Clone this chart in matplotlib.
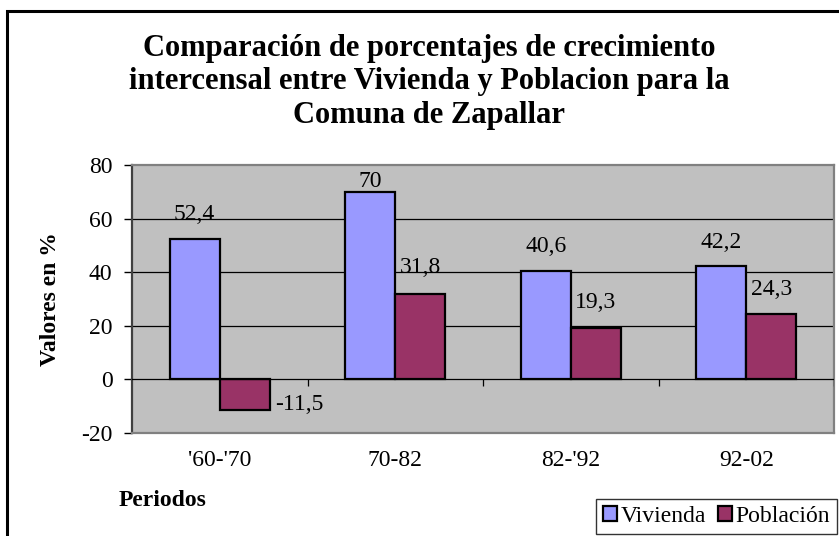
import matplotlib
matplotlib.use("Agg")
import matplotlib.pyplot as plt
import numpy as np
from matplotlib.patches import Rectangle

# data
periodos = ["'60-'70", "70-82", "82-'92", "92-02"]
vivienda = [52.4, 70.0, 40.6, 42.2]
poblacion = [-11.5, 31.8, 19.3, 24.3]
vivienda_lbl = ["52,4", "70", "40,6", "42,2"]
poblacion_lbl = ["-11,5", "31,8", "19,3", "24,3"]

W, H, DPI = 839, 536, 100
FS = 17
plt.rcParams["font.family"] = ["Liberation Serif", "DejaVu Serif"]
plt.rcParams["axes.unicode_minus"] = False

fig = plt.figure(figsize=(W / DPI, H / DPI), dpi=DPI)
ax = fig.add_axes([132 / W, 1 - 433 / H, 702 / W, 268 / H])
ax.set_facecolor("#C0C0C0")

x = np.arange(len(periodos))
bw = 1 / 3.5  # excel gap width 150%
ax.bar(x - bw / 2, vivienda, bw, color="#9999FF", edgecolor="black",
       linewidth=1.6, label="Vivienda", zorder=3)
ax.bar(x + bw / 2, poblacion, bw, color="#993366", edgecolor="black",
       linewidth=1.6, label="Población", zorder=3)

ax.set_xlim(-0.5, len(periodos) - 0.5)
ax.set_ylim(-20, 80)
ax.set_yticks(np.arange(-20, 81, 20))
ax.set_xticks(x)
ax.set_xticklabels(periodos)
ax.tick_params(axis="x", length=0, pad=12, labelsize=FS)
ax.tick_params(axis="y", length=6, width=1, pad=8, labelsize=FS,
               color="black")
for sp in ax.spines.values():
    sp.set_color("#808080")
    sp.set_linewidth(1.6)
ax.spines["left"].set_color("#404040")

for g in (20, 40, 60):
    ax.axhline(g, color="black", lw=0.9, zorder=1)
ax.axhline(0, color="black", lw=0.9, zorder=4)
# category separators hanging under the zero line
ax.vlines(np.arange(1, len(periodos) + 1) - 0.5, -2.3, 0,
          color="black", lw=0.9, zorder=4)

# data labels, offsets in pixels (excel placement is a bit irregular)
px = 72 / DPI
viv_dy = [24, 10, 24, 24]
pob_dy = [None, 27, 25, 25]
for i in range(len(periodos)):
    ax.annotate(vivienda_lbl[i], (x[i] - bw / 2, vivienda[i]),
                xytext=(0, viv_dy[i] * px), textcoords="offset points",
                ha="center", va="center", fontsize=FS, zorder=5)
    if poblacion[i] < 0:
        ax.annotate(poblacion_lbl[i], (x[i] + bw, poblacion[i]),
                    xytext=(5 * px, 6 * px), textcoords="offset points",
                    ha="left", va="center", fontsize=FS, zorder=5)
    else:
        ax.annotate(poblacion_lbl[i], (x[i] + bw / 2, poblacion[i]),
                    xytext=(0, pob_dy[i] * px), textcoords="offset points",
                    ha="center", va="center", fontsize=FS, zorder=5)

fig.text(429 / W, 1 - 82 / H,
         "Comparación de porcentajes de crecimiento\n"
         "intercensal entre Vivienda y Poblacion para la\n"
         "Comuna de Zapallar",
         ha="center", va="center", fontsize=22, fontweight="bold",
         multialignment="center", linespacing=1.22)
fig.text(50 / W, 1 - 299 / H, "Valores en %", rotation=90,
         ha="center", va="center", fontsize=FS, fontweight="bold")
fig.text(119 / W, 1 - 500 / H, "Periodos", ha="left", va="center",
         fontsize=FS, fontweight="bold")

leg = fig.legend(loc="lower right", bbox_to_anchor=(837 / W, 1 - 534 / H),
                 ncol=2, fontsize=FS, frameon=True, fancybox=False,
                 handlelength=0.6, handleheight=0.6, handletextpad=0.15,
                 columnspacing=0.5, borderpad=0.3, borderaxespad=0)
leg.get_frame().set_edgecolor("black")
leg.get_frame().set_linewidth(1.0)

# outer chart border (right and bottom edges are cut off in the reference)
fig.patches.append(Rectangle((7 / W, -0.1), 1.2, 1 - 11 / H + 0.1,
                             transform=fig.transFigure, fill=False,
                             edgecolor="black", linewidth=2.2))

fig.savefig("out.png", dpi=DPI, facecolor="white")
